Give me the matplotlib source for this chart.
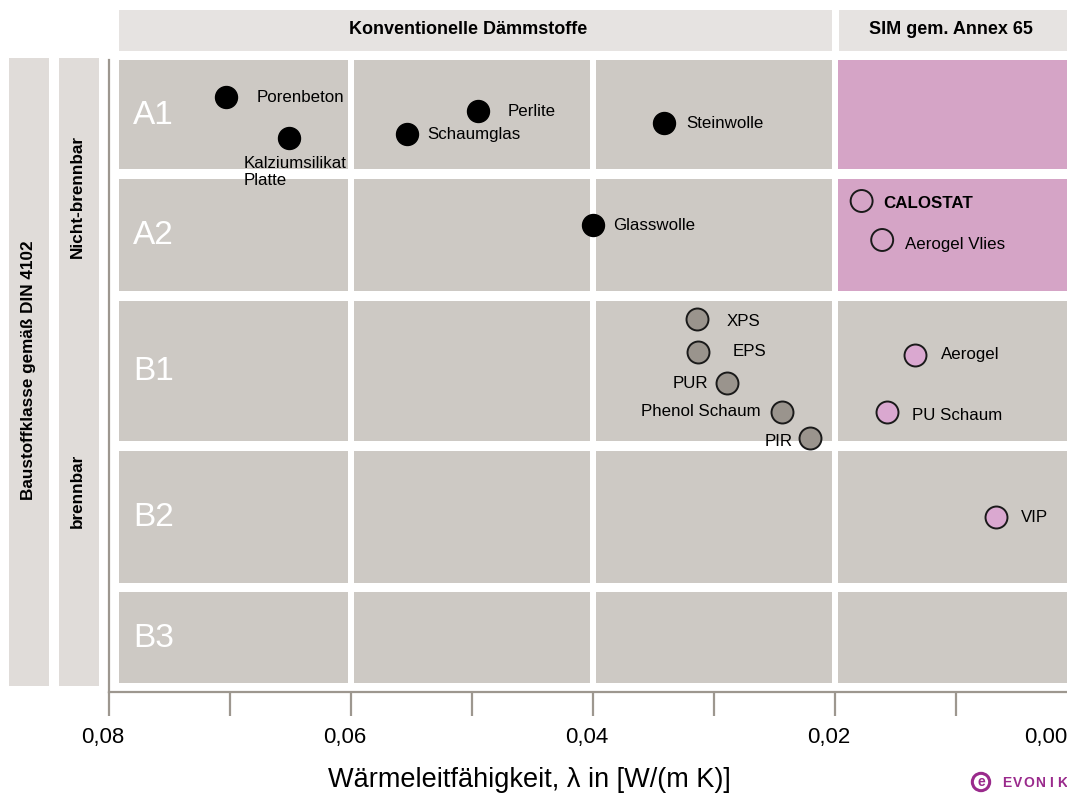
import matplotlib
matplotlib.use("Agg")
import matplotlib.pyplot as plt
from matplotlib.patches import Rectangle
from matplotlib.transforms import ScaledTranslation

plt.rcParams['font.family'] = ['Liberation Sans', 'DejaVu Sans']

# material classes (rows) and their vertical span in plot units (top, bottom)
classes = ["A1", "A2", "B1", "B2", "B3"]
row_top = [0, 119, 241, 391, 532]
row_bottom = [109, 231, 381, 523, 623]

# lambda columns (W/(m K)); the last column is the SIM region
col_left = [0.0792, 0.06, 0.04, 0.02]
col_right = [0.06, 0.04, 0.02, -0.001]

# conventional, non-combustible (filled black)
mineral_names = ["Porenbeton", "Kalziumsilikat\nPlatte", "Schaumglas", "Perlite",
                 "Steinwolle", "Glasswolle"]
mineral_lambda = [0.0703, 0.0651, 0.0554, 0.0495, 0.0341, 0.0400]
mineral_y = [37, 78, 74, 51, 63, 165]

# conventional foams (grey)
foam_names = ["XPS", "EPS", "PUR", "Phenol Schaum", "PIR"]
foam_lambda = [0.0314, 0.0313, 0.0289, 0.0244, 0.0221]
foam_y = [259, 292, 323, 352, 378]

# SIM, non-combustible (open)
sim_a_names = ["CALOSTAT", "Aerogel Vlies"]
sim_a_lambda = [0.0178, 0.0161]
sim_a_y = [141, 180]

# SIM, combustible (pink)
sim_b_names = ["Aerogel", "PU Schaum", "VIP"]
sim_b_lambda = [0.0134, 0.0157, 0.0067]
sim_b_y = [295, 352, 457]

x_ticks = [0.08, 0.07, 0.06, 0.05, 0.04, 0.03, 0.02, 0.01, 0.00]
x_ticklabels = ["0,08", "", "0,06", "", "0,04", "", "0,02", "", "0,00"]

W, H = 1067, 798
CELL = "#cdc9c4"
PINK = "#d5a4c6"
HEAD = "#e6e3e1"
AXIS = "#9d978f"
PURPLE = "#9a2a8c"


def fx(px):
    return px / W


def fy(py):
    return 1 - py / H


fig = plt.figure(figsize=(W / 100, H / 100), dpi=100)
ax = fig.add_axes([fx(109), fy(692), fx(1077 - 109), (692 - 60) / H])
ax.set_xlim(0.08, 0.0)
ax.set_ylim(632, 0)
ax.set_facecolor("white")

# grid of cells
for i, cls in enumerate(classes):
    for j in range(len(col_left)):
        gap_l = 0 if j == 0 else 0.00025
        gap_r = 0.00025
        left = col_left[j] - gap_l
        right = col_right[j] + gap_r
        color = PINK if (j == 3 and cls in ("A1", "A2")) else CELL
        ax.add_patch(Rectangle((right, row_top[i]), left - right,
                               row_bottom[i] - row_top[i], facecolor=color,
                               edgecolor="none", zorder=0))
    ax.text(0.0780, (row_top[i] + row_bottom[i]) / 2 + 1, cls, color="white",
            fontsize=24, ha="left", va="center", zorder=1)

# column headers above the plot
ax.add_patch(Rectangle((0.02 + 0.00025, -50), 0.0792 - 0.02025, 41,
                       facecolor=HEAD, edgecolor="none", clip_on=False))
ax.add_patch(Rectangle((-0.001, -50), 0.0197 + 0.001, 41,
                       facecolor=HEAD, edgecolor="none", clip_on=False))
ax.text(0.0503, -30, "Konventionelle Dämmstoffe", fontsize=13,
        fontweight="bold", ha="center", va="center")
ax.text(0.0104, -30, "SIM gem. Annex 65", fontsize=13, fontweight="bold",
        ha="center", va="center")

# markers
ax.scatter(mineral_lambda, mineral_y, s=250, color="black", zorder=3)
ax.scatter(foam_lambda, foam_y, s=250, color="#9a948d", edgecolor="#1a1a1a",
           linewidth=1.4, zorder=3)
ax.scatter(sim_a_lambda, sim_a_y, s=250, facecolor="none", edgecolor="#1a1a1a",
           linewidth=1.4, zorder=3)
ax.scatter(sim_b_lambda, sim_b_y, s=250, color="#daa8d0", edgecolor="#1a1a1a",
           linewidth=1.4, zorder=3)

# labels (offsets in pixels)
label_off = {
    "Porenbeton": (30, 0, "left", "center"),
    "Kalziumsilikat\nPlatte": (-46, -18, "left", "top"),
    "Schaumglas": (21, 0, "left", "center"),
    "Perlite": (30, 0, "left", "center"),
    "Steinwolle": (22, 0, "left", "center"),
    "Glasswolle": (20, 0, "left", "center"),
    "XPS": (30, -2, "left", "center"),
    "EPS": (34, 0, "left", "center"),
    "PUR": (-19, 0, "right", "center"),
    "Phenol Schaum": (-21, 0, "right", "center"),
    "PIR": (-17, -3, "right", "center"),
    "CALOSTAT": (22, -3, "left", "center"),
    "Aerogel Vlies": (23, -5, "left", "center"),
    "Aerogel": (26, 0, "left", "center"),
    "PU Schaum": (25, -3, "left", "center"),
    "VIP": (25, 0, "left", "center"),
}
groups = [(mineral_names, mineral_lambda, mineral_y),
          (foam_names, foam_lambda, foam_y),
          (sim_a_names, sim_a_lambda, sim_a_y),
          (sim_b_names, sim_b_lambda, sim_b_y)]
for names, xs, ys in groups:
    for name, xv, yv in zip(names, xs, ys):
        dx, dy, ha, va = label_off[name]
        weight = "bold" if name == "CALOSTAT" else "normal"
        ax.annotate(name, (xv, yv), xytext=(dx, dy), textcoords="offset pixels",
                    fontsize=12.2, ha=ha, va=va, fontweight=weight,
                    linespacing=1.15, zorder=4)

# axes styling
for side in ("top", "right"):
    ax.spines[side].set_visible(False)
for side in ("left", "bottom"):
    ax.spines[side].set_color(AXIS)
    ax.spines[side].set_linewidth(1.6)
ax.set_yticks([])
ax.set_xticks(x_ticks)
ax.set_xticklabels(x_ticklabels)
ax.tick_params(axis="x", direction="out", length=17, width=1.6, color=AXIS,
               labelsize=16, pad=8)

# tick labels sit slightly left of their ticks; the last one is pulled in
for lab in ax.get_xticklabels():
    shift = -31 if lab.get_text() == "0,00" else -6
    lab.set_transform(lab.get_transform() +
                      ScaledTranslation(shift / 100, 0, fig.dpi_scale_trans))

fig.text(fx(529), fy(780), "Wärmeleitfähigkeit, λ in [W/(m K)]", fontsize=19.5,
         ha="center", va="center")

# classification bands on the left
for x0 in (9, 59):
    fig.add_artist(Rectangle((fx(x0), fy(686)), fx(40), (686 - 58) / H,
                             transform=fig.transFigure, facecolor="#e0dcd9",
                             edgecolor="none"))
fig.text(fx(29), fy(370), "Baustoffklasse gemäß DIN 4102", rotation=90,
         fontsize=12.3, fontweight="bold", ha="center", va="center")
fig.text(fx(77), fy(196), "Nicht-brennbar", rotation=90, fontsize=12.3,
         fontweight="bold", ha="center", va="center")
fig.text(fx(77), fy(491), "brennbar", rotation=90, fontsize=12.3,
         fontweight="bold", ha="center", va="center")

# logo
fig.text(fx(981), fy(782), "e", fontsize=10, fontweight="bold", color=PURPLE,
         ha="center", va="center",
         bbox=dict(boxstyle="circle,pad=0.12", facecolor="none",
                   edgecolor=PURPLE, linewidth=2.2))
for k, ch in enumerate("EVONIK"):
    fig.text(fx(1007 + 11 * k), fy(783), ch, fontsize=10, fontweight="bold",
             color=PURPLE, ha="center", va="center")

fig.savefig("out.png", dpi=100)
